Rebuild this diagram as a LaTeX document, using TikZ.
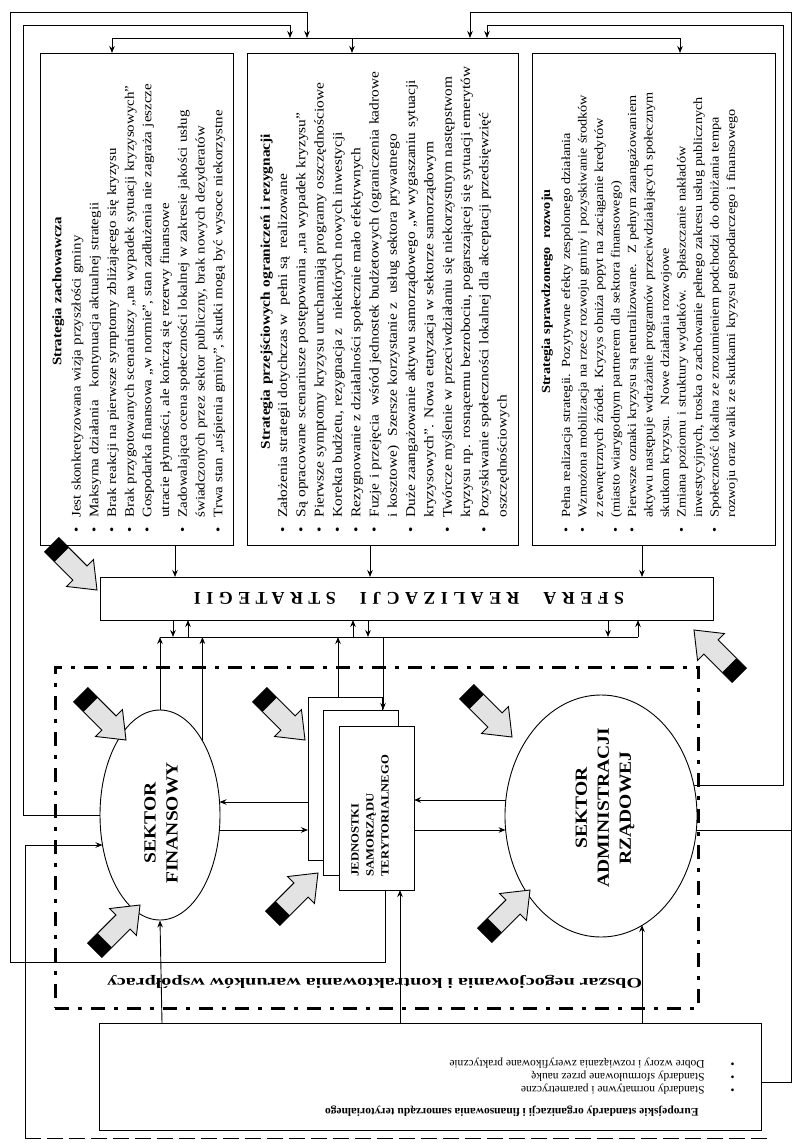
\documentclass[tikz,border=0pt]{standalone}
\usepackage{fontspec}
\usepackage{graphicx}
\setmainfont{Liberation Serif}
\newfontfamily\stf[FakeStretch=1.15]{Liberation Serif}
\usetikzlibrary{arrows.meta,calc,shapes.geometric}
\newcommand\fatarr[3]{%
  \begin{scope}[shift={(#1,#2)},rotate=#3]
    \filldraw[fill=gray!22,line width=0.9pt] (0,0) -- (-24,19) -- (-24,10) -- (-64,10) -- (-64,-10) -- (-24,-10) -- (-24,-19) -- cycle;
    \fill (-64,-10) rectangle (-50,10);
  \end{scope}}
\newcommand\bl{\makebox[15pt][l]{•}}
\newcommand\ct{\hspace*{15pt}}
\newcommand\ttl[2]{\makebox[482pt][c]{\bfseries #1}\\[#2]}
\begin{document}
\begin{tikzpicture}[x=1pt,y=-1pt,line width=0.9pt,
  >={Stealth[length=7pt,width=5.5pt]},
  box/.style={draw,rectangle,inner sep=0pt,fill=white},
  stext/.style={rotate=90,anchor=north west,inner sep=0pt,align=left,text width=482pt},
  ell/.style={draw,ellipse,inner sep=0pt,fill=white}]
\useasboundingbox (0,0) rectangle (792,1143);
\fill[white] (0,0) rectangle (792,1143);

% dash-dot negotiation area
\node[draw,line width=3pt,dash pattern=on 14pt off 9pt on 4pt off 9pt,minimum width=643pt,minimum height=341pt,inner sep=0pt] (obs) at (376.5,837.5) {};
\node[rotate=180,inner sep=0pt] (obstxt) at (374.5,982) {\resizebox{535pt}{10pt}{\bfseries Obszar negocjowania i kontraktowania warunków współpracy}};

% strategy boxes
\node[box,minimum width=193pt,minimum height=492pt] (s1) at (136.5,299) {};
\node[box,minimum width=271pt,minimum height=492pt] (s2) at (382.5,299) {};
\node[box,minimum width=243pt,minimum height=492pt] (s3) at (653.5,299) {};

\node[stext,font=\stf\fontsize{13}{17.7}\selectfont] (t1) at (52,533) {\ttl{Strategia zachowawcza}{1.5pt}
\bl Jest skonkretyzowana wizja przyszłości gminy\\
\bl Maksyma działania \ \ kontynuacja aktualnej strategii\\
\bl Brak reakcji na pierwsze symptomy zbliżającego się kryzysu\\
\bl Brak przygotowanych scenariuszy „na wypadek sytuacji kryzysowych”\\
\bl Gospodarka finansowa „w normie”, stan zadłużenia nie zagraża jeszcze\\
\ct utracie płynności, ale kończą się rezerwy finansowe\\
\bl Zadowalająca ocena społeczności lokalnej w zakresie jakości usług\\
\ct świadczonych przez sektor publiczny, brak nowych dezyderatów\\
\bl Trwa stan „uśpienia gminy”, skutki mogą być wysoce niekorzystne};

\node[stext,font=\stf\fontsize{13.4}{18.3}\selectfont] (t2) at (260,533) {\ttl{Strategia przejściowych ograniczeń i rezygnacji}{-1pt}
\bl Założenia strategii dotychczas w \ pełni są \ realizowane\\
\bl Są opracowane scenariusze postępowania „na wypadek kryzysu”\\
\bl Pierwsze symptomy kryzysu uruchamiają programy oszczędnościowe\\
\bl Korekta budżetu, rezygnacja z \ niektórych nowych inwestycji\\
\bl Rezygnowanie z działalności społecznie mało efektywnych\\
\bl Fuzje i przejęcia \ wśród jednostek budżetowych (ograniczenia kadrowe\\
\ct i kosztowe) \ Szersze korzystanie z \ usług sektora prywatnego\\
\bl Duże zaangażowanie aktywu samorządowego „w wygaszaniu sytuacji\\
\ct kryzysowych”. Nowa etatyzacja w sektorze samorządowym\\
\bl Twórcze myślenie w przeciwdziałaniu się niekorzystnym następstwom\\
\ct kryzysu np. rosnącemu bezrobociu, pogarszającej się sytuacji emerytów\\
\bl Pozyskiwanie społeczności lokalnej dla akceptacji przedsięwzięć\\
\ct oszczędnościowych};

\node[stext,font=\stf\fontsize{12.4}{16.5}\selectfont] (t3) at (541,533) {\ttl{Strategia sprawdzonego \ rozwoju}{3.5pt}
\bl Pełna realizacja strategii. Pozytywne efekty zespolonego działania\\
\bl Wzmożona mobilizacja na rzecz rozwoju gminy i pozyskiwanie środków\\
\ct z zewnętrznych źródeł. Kryzys obniża popyt na zaciąganie kredytów\\
\bl (miasto wiarygodnym partnerem dla sektora finansowego)\\
\bl Pierwsze oznaki kryzysu są neutralizowane. \ Z pełnym zaangażowaniem\\
\ct aktywu następuje wdrażanie programów przeciwdziałających społecznym\\
\ct skutkom kryzysu. \ Nowe działania rozwojowe\\
\bl Zmiana poziomu i struktury wydatków. \ Spłaszczanie nakładów\\
\ct inwestycyjnych, troska o zachowanie pełnego zakresu usług publicznych\\
\bl Społeczność lokalna ze zrozumieniem podchodzi do obniżania tempa\\
\ct rozwoju oraz walki ze skutkami kryzysu gospodarczego i finansowego};

% SFERA
\node[box,minimum width=613pt,minimum height=43pt] (sfera) at (406.5,598.5) {};
\node[rotate=180,inner sep=0pt,font=\bfseries\fontsize{18}{18}\selectfont] (sferatxt) at (409,598.5) {\addfontfeatures{LetterSpace=30}SFERA\hspace{24pt}REALIZACJI\hspace{24pt}STRATEGII};

% sectors
\node[ell,minimum width=120pt,minimum height=210pt] (fin) at (160,815) {};
\node[rotate=90,align=center,inner sep=0pt,font=\stf\bfseries\fontsize{17}{22}\selectfont] (fintxt) at (161,823) {SEKTOR\\FINANSOWY};
\node[ell,minimum width=192pt,minimum height=242pt] (adm) at (601,816) {};
\node[rotate=90,align=center,inner sep=0pt,font=\stf\bfseries\fontsize{17}{22}\selectfont] (admtxt) at (605,808) {SEKTOR\\ADMINISTRACJI\\RZĄDOWEJ};
\node[box,minimum width=74pt,minimum height=163pt] (jb) at (345,778.5) {};
\node[box,minimum width=75pt,minimum height=165pt] (jm) at (360.5,792.5) {};
\node[box,minimum width=75pt,minimum height=164pt] (jf) at (376.5,808) {};
\node[rotate=90,anchor=north west,align=left,inner sep=0pt,font=\stf\bfseries\fontsize{11}{15}\selectfont] (jtxt) at (351,877) {JEDNOSTKI\\SAMORZĄDU\\TERYTORIALNEGO};

% bottom box
\node[box,minimum width=662pt,minimum height=107pt] (std) at (430,1076.5) {};
\node[rotate=180,anchor=north west,align=left,inner sep=0pt,font=\fontsize{11.5}{13}\selectfont] (stdtxt) at (735,1117) {\hspace*{36pt}\textbf{Europejskie standardy organizacji i finansowania samorządu terytorialnego}\\[9pt]
\makebox[30pt][l]{•}Standardy normatywne i parametryczne\\
\makebox[30pt][l]{•}Standardy sformułowane przez naukę\\
\makebox[30pt][l]{•}Dobre wzory i rozwiązania zweryfikowane praktycznie};

% top distribution
\coordinate (tbl) at (112,38);
\coordinate (tbr) at (680,38);
\draw (tbl) -- (tbr);
\draw[->] (tbl) -- (112,53);
\draw[->] (352,38) -- (352,53);
\draw[->] (tbr) -- (680,53);
% feedback loops
\draw[->] (385,890) -- (385,962) -- (10,962) -- (10,12) -- (307,12) -- (307,38);
\draw[->] (fin.west) -- (23,815) -- (23,25) -- (290,25) -- (290,38);
\draw[->] (std.east |- 0,1082) -- (791,1082) -- (791,12) -- (470,12) -- (470,38);
\draw (697,830) -- (791,830);
\draw[->] (694,785) -- (783,785) -- (783,25) -- (487,25) -- (487,38);
\draw[->] (25,1138) -- (25,845) -- (102.5,845);
\draw[dash pattern=on 16pt off 6pt] (25,1138) -- (772,1138);

% boxes to SFERA
\draw[->] (175,545) -- (175,577);
\draw[->] (370,545) -- (370,577);
\draw[->] (642,545) -- (642,577);

% SFERA bus
\coordinate (busl) at (160,637);
\coordinate (busr) at (638,637);
\draw (busl) -- (busr);
\draw[->] (173,620) -- (173,637);
\draw[->] (188,637) -- (188,620);
\draw[->] (353,637) -- (353,620);
\draw[->] (368,620) -- (368,637);
\draw[->] (608,620) -- (608,637);
\draw[->] (busr) -- (638,620);
\draw[->] (fin.north) -- (busl);
\draw[->] (202.4,740.8) -- (202.4,637);
\draw[->] (338,697) -- (338,637);
\draw[->] (383,637) -- (383,710);

% sector links
\draw[->] (308,802) -- (219.5,802);
\draw[->] (219.4,830) -- (308,830);
\draw[->] (505.8,800) -- (414,800);
\draw[->] (414,830) -- (505.6,830);

% standards to sectors
\draw[->] (162,1023) -- (fin.south);
\draw[->] (400,1023) -- (400,890);
\draw[->] (642,1023) -- (642,925);

% block arrows
\fatarr{97}{590}{-45}
\fatarr{126}{740}{-45}
\fatarr{305}{740}{-45}
\fatarr{140}{905}{45}
\fatarr{318}{873}{45}
\fatarr{512}{737}{-45}
\fatarr{530}{890}{45}
\fatarr{694}{630}{135}
\end{tikzpicture}
\end{document}
